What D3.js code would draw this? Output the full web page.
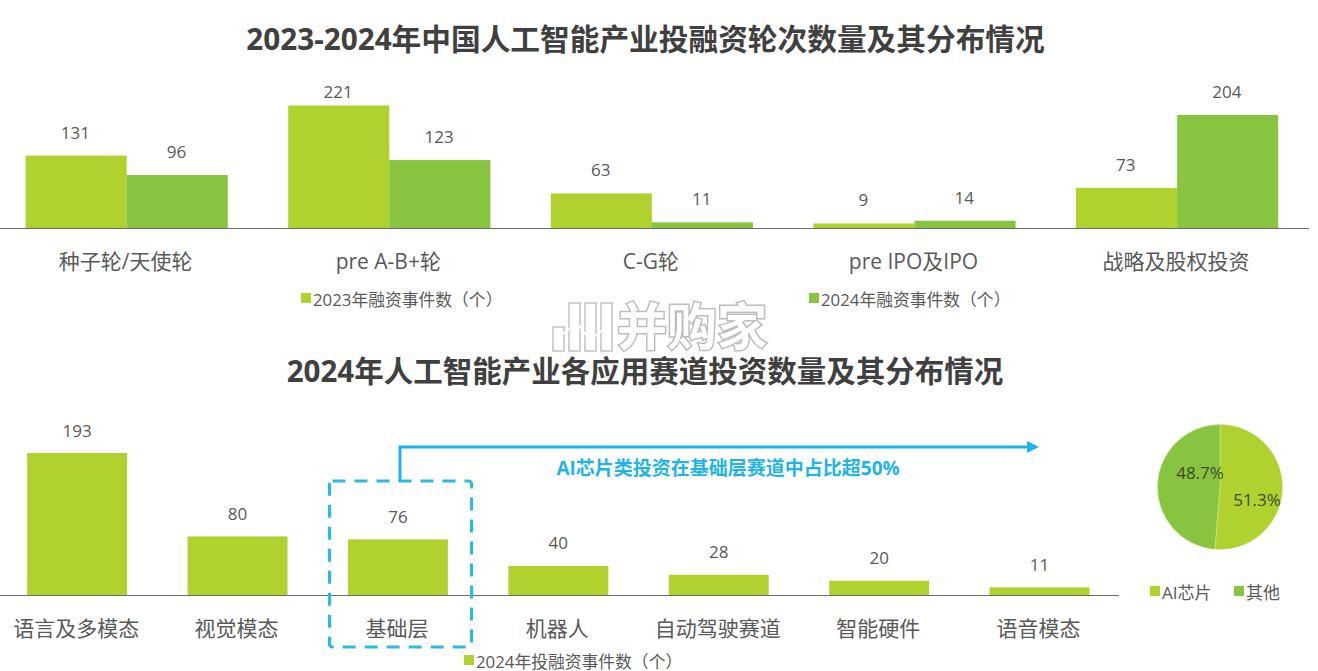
<!DOCTYPE html>
<html>
<head>
<meta charset="utf-8">
<script src="https://cdnjs.cloudflare.com/ajax/libs/d3/7.8.5/d3.min.js"></script>
<style>
html, body { margin: 0; padding: 0; background: #fff; overflow: hidden; }
text { font-family: "Open Sans", "Noto Sans CJK SC", sans-serif; }
</style>
</head>
<body>
<svg id="chart" width="1318" height="671"></svg>
<script>
const roundCats = ["种子轮/天使轮", "pre A-B+轮", "C-G轮", "pre IPO及IPO", "战略及股权投资"];
const values2023 = [131, 221, 63, 9, 73];
const values2024 = [96, 123, 11, 14, 204];
const roundLegend = ["2023年融资事件数（个）", "2024年融资事件数（个）"];

const trackCats = ["语言及多模态", "视觉模态", "基础层", "机器人", "自动驾驶赛道", "智能硬件", "语音模态"];
const trackValues = [193, 80, 76, 40, 28, 20, 11];

const pieCats = ["AI芯片", "其他"];
const pieValues = [51.3, 48.7];

const lime = "#b0d22f";
const green = "#88c440";
const cyan = "#1db5e8";
const textColor = "#595959";
const titleColor = "#404040";

const svg = d3.select("#chart");

function label(x, y, str, size, opts = {}) {
    return svg.append("text")
        .attr("x", x)
        .attr("y", y)
        .attr("text-anchor", opts.anchor || "middle")
        .attr("font-size", size)
        .attr("font-weight", opts.weight || 400)
        .attr("fill", opts.color || textColor)
        .text(str);
}

function legendItem(x, y, str, color, size = 16.8) {
    svg.append("rect").attr("x", x).attr("y", y - 9).attr("width", 10).attr("height", 10).attr("fill", color);
    label(x + 12, y + 4, str, size, { anchor: "start" });
}

// top chart
label(645.5, 49.5, "2023-2024年中国人工智能产业投融资轮次数量及其分布情况", 29.7, { weight: 700, color: titleColor });

const x0 = d3.scaleBand().domain(roundCats).range([-4.6, 1308.4]).paddingInner(0.23).paddingOuter(0.115);
const x1 = d3.scaleBand().domain([0, 1]).range([0, x0.bandwidth()]);
const y0 = d3.scaleLinear().domain([0, 221]).range([228.5, 105.5]);

[values2023, values2024].forEach((vals, s) => {
    const color = s === 0 ? lime : green;
    svg.append("g").selectAll("rect").data(vals).join("rect")
        .attr("x", (d, i) => x0(roundCats[i]) + x1(s))
        .attr("y", d => y0(d))
        .attr("width", x1.bandwidth())
        .attr("height", d => y0(0) - y0(d))
        .attr("fill", color);
    vals.forEach((d, i) => {
        // the two tallest labels sit closer to their bars
        label(x0(roundCats[i]) + x1(s) + x1.bandwidth() / 2 - 0.7, Math.max(y0(d) - 17, 98), d, 17);
    });
});

const axisTop = d3.axisBottom(x0).tickSize(0).tickPadding(0);
const gTop = svg.append("g").attr("transform", "translate(0,228.5)").call(axisTop);
gTop.select(".domain").attr("d", "M0,0H1309").attr("stroke", "#6b6b6b").attr("stroke-width", 1);
gTop.selectAll("text").attr("x", -1).attr("y", 40).attr("dy", 0).attr("font-size", 21).attr("fill", textColor)
    .style("font-family", '"Open Sans", "Noto Sans CJK SC", sans-serif');

legendItem(301, 302, roundLegend[0], lime);
legendItem(809, 302, roundLegend[1], green);

// bottom chart
label(645, 381.5, "2024年人工智能产业各应用赛道投资数量及其分布情况", 29.5, { weight: 700, color: titleColor });

const x2 = d3.scaleBand().domain(trackCats).range([-3.3, 1120]).paddingInner(0.377).paddingOuter(0.19);
const y2 = d3.scaleLinear().domain([0, 193]).range([595.5, 453]);

svg.append("g").selectAll("rect").data(trackValues).join("rect")
    .attr("x", (d, i) => x2(trackCats[i]))
    .attr("y", d => y2(d))
    .attr("width", x2.bandwidth())
    .attr("height", d => y2(0) - y2(d))
    .attr("fill", lime);
trackValues.forEach((d, i) => {
    label(x2(trackCats[i]) + x2.bandwidth() / 2, y2(d) - 16.5, d, 17);
});

const axisBottom = d3.axisBottom(x2).tickSize(0).tickPadding(0);
const gBot = svg.append("g").attr("transform", "translate(0,595.5)").call(axisBottom);
gBot.select(".domain").attr("d", "M0,0H1119").attr("stroke", "#6b6b6b").attr("stroke-width", 1);
gBot.selectAll("text").attr("x", -1).attr("y", 40).attr("dy", 0).attr("font-size", 21).attr("fill", textColor)
    .style("font-family", '"Open Sans", "Noto Sans CJK SC", sans-serif');

legendItem(464, 664, "2024年投融资事件数（个）", lime);

// callout
svg.append("rect")
    .attr("x", 329.5).attr("y", 481).attr("width", 142).attr("height", 166)
    .attr("rx", 3)
    .attr("fill", "none").attr("stroke", "#2bbbe0").attr("stroke-width", 3.2)
    .attr("stroke-dasharray", "13 9");
svg.append("path")
    .attr("d", "M400,481V447H1028")
    .attr("fill", "none").attr("stroke", cyan).attr("stroke-width", 3);
svg.append("path").attr("d", "M1027,441L1039,447L1027,453Z").attr("fill", cyan);
label(728, 475, "AI芯片类投资在基础层赛道中占比超50%", 19, { weight: 700, color: cyan });

// pie
const pieColors = [lime, green];
const pieG = svg.append("g").attr("transform", "translate(1220,487)");
const arc = d3.arc().innerRadius(0).outerRadius(62.5);
const arcs = d3.pie().sort(null)(pieValues);
pieG.selectAll("path").data(arcs).join("path")
    .attr("d", arc)
    .attr("fill", (d, i) => pieColors[i])
    .attr("stroke", "#d6e89a")
    .attr("stroke-width", 0.5);
label(1257, 506, pieValues[0].toFixed(1) + "%", 17, { color: "#3f4a25" });
label(1200, 479, pieValues[1].toFixed(1) + "%", 17, { color: "#3f4a25" });

legendItem(1150, 595, pieCats[0], lime, 17);
legendItem(1234, 595, pieCats[1], green, 17);

// watermark
const wm = svg.append("g");
const wmBars = [[553, 327, 11, 24], [569, 303, 11, 48], [585, 303, 11, 48], [601, 303, 11, 48]];
wm.selectAll("rect").data(wmBars).join("rect")
    .attr("x", d => d[0]).attr("y", d => d[1]).attr("width", d => d[2]).attr("height", d => d[3])
    .attr("fill", "#fff").attr("fill-opacity", 0.85).attr("stroke", "#c6c6c6").attr("stroke-width", 1.6);
wm.append("path").attr("d", "M558,338L577,323L590,340L606,327")
    .attr("fill", "none").attr("stroke", "#fff").attr("stroke-width", 2);
wm.append("text")
    .attr("x", 692).attr("y", 345)
    .attr("text-anchor", "middle")
    .attr("font-size", 50)
    .attr("font-weight", 700)
    .attr("fill", "#fff")
    .attr("stroke", "#bdbdbd")
    .attr("stroke-width", 3)
    .attr("paint-order", "stroke")
    .style("font-family", '"Noto Sans CJK SC", sans-serif')
    .text("并购家");
</script>
</body>
</html>
